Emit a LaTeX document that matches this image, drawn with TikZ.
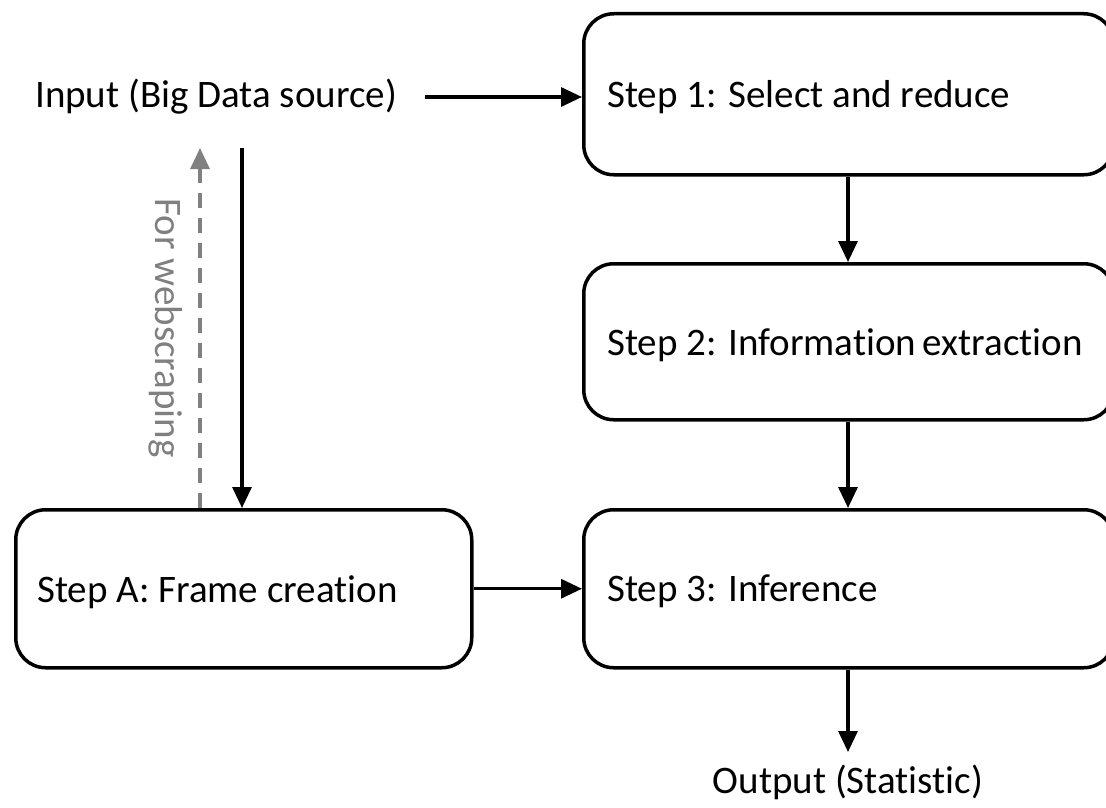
\documentclass[tikz,border=0pt]{standalone}
\usepackage{fontspec}
\setmainfont{Carlito}[Ligatures={NoCommon,NoRequired,NoContextual}]
\usetikzlibrary{arrows.meta}
\begin{document}
\begin{tikzpicture}[x=1pt,y=-1pt,
  every node/.style={font=\fontsize{39}{46}\selectfont},
  stepbox/.style={draw=black,line width=3.5pt,rounded corners=30pt,
    inner sep=0pt,anchor=north west},
  label/.style={inner sep=0pt,anchor=west},
  flow/.style={line width=3.2pt,-{Triangle[length=21pt,width=19pt]}},
  scrape/.style={line width=3.2pt,gray,dash pattern=on 15pt off 10pt,
    -{Triangle[length=21pt,width=19pt]}},
  plain/.style={inner sep=0pt}]
\useasboundingbox (0,0) rectangle (1106,808);
\clip (0,0) rectangle (1106,808);

% process boxes
\node[stepbox,minimum width=530pt,minimum height=161pt] (s1) at (582,12) {};
\node[stepbox,minimum width=530pt,minimum height=156pt] (s2) at (582,262) {};
\node[stepbox,minimum width=530pt,minimum height=158pt] (s3) at (582,508) {};
\node[stepbox,minimum width=456pt,minimum height=158pt] (sa) at (14,508) {};

% box texts
\node[label] (t1) at ([xshift=25pt,yshift=-3pt]s1.west) {Step 1: Select and reduce};
\node[label] (t2) at ([xshift=25pt,yshift=-3pt]s2.west) {Step 2: Information\,extraction};
\node[label] (t3) at ([xshift=25pt,yshift=-3pt]s3.west) {Step 3: Inference};
\node[label] (ta) at ([xshift=23pt,yshift=-3pt]sa.west) {Step A: Frame creation};

% input and output labels
\node[label] (in) at (35,97) {Input (Big Data source)};
\node[plain,anchor=north] (out) at (848,765) {Output (Statistic)};
\coordinate (outtip) at (848,752);
\coordinate (intop) at (242,148);
\coordinate (scrtop) at (200,148);
\coordinate (inR) at (425,97);

% connectors
\draw[flow] (inR) -- (s1.west |- inR);
\draw[flow] (s1.south -| 848,0) -- (s2.north -| 848,0);
\draw[flow] (s2.south -| 848,0) -- (s3.north -| 848,0);
\draw[flow] (s3.south -| 848,0) -- (outtip);
\draw[flow] (intop) -- (sa.north -| intop);
\draw[flow] (sa.east) -- (s3.west |- sa.east);
\draw[scrape] (sa.north -| scrtop) -- (scrtop);
\node[plain,text=gray,rotate=-90,anchor=north] (web) at (183,328) {For webscraping};
\end{tikzpicture}
\end{document}
